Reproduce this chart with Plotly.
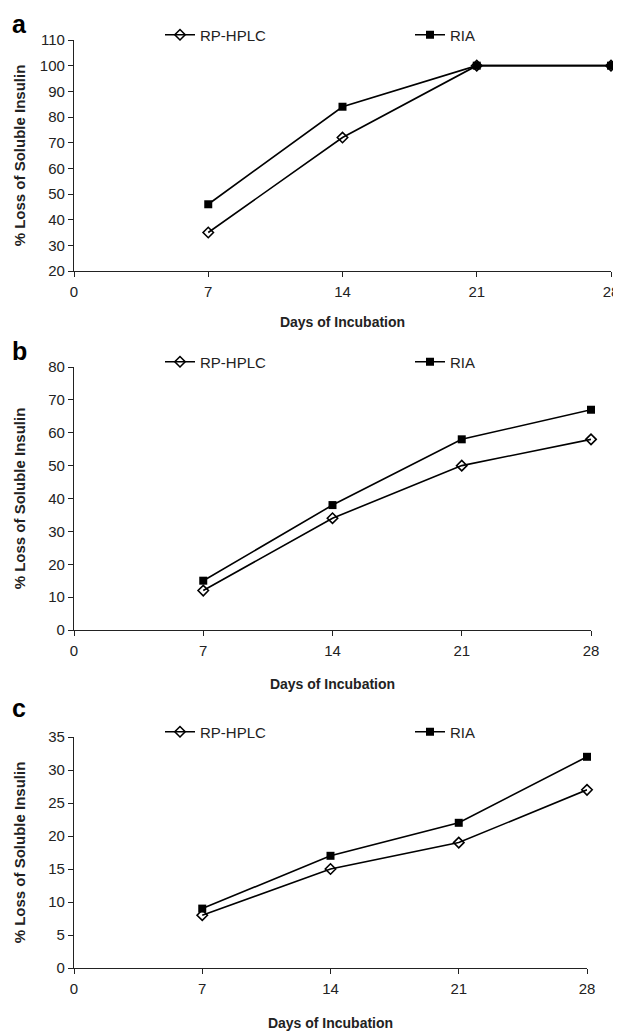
import plotly.graph_objects as go

days = [7, 14, 21, 28]
a_hplc = [35, 72, 100, 100]
a_ria = [46, 84, 100, 100]
b_hplc = [12, 34, 50, 58]
b_ria = [15, 38, 58, 67]
c_hplc = [8, 15, 19, 27]
c_ria = [9, 17, 22, 32]
x_ticks = [0, 7, 14, 21, 28]
panel_letters = ["a", "b", "c"]
y_ranges = [[20, 110], [0, 80], [0, 35]]
y_dticks = [10, 10, 5]
series_names = ["RP-HPLC", "RIA"]

OFF = 8  # page body margin
W, H = 621 - OFF, 1032 - OFF
def px(x): return (x - OFF) / W
def py(y): return 1 - (y - OFF) / H

# panel layout in screen pixels: (left, right, top, bottom)
panels = [(74, 611, 40, 271), (74, 591, 367, 630), (74, 587, 737, 968)]
legend_x = [160, 410]
ytitle_standoff = [10, 18, 18]
xtitle_standoff = [18, 21, 22]
letter_gap = [16, 16, 29]

FONT = "Liberation Sans, Arial, sans-serif"
fig = go.Figure()
data = [(a_hplc, a_ria), (b_hplc, b_ria), (c_hplc, c_ria)]
layout = dict(width=W, height=H, margin=dict(l=0, r=0, t=0, b=0, autoexpand=False),
              plot_bgcolor="white", paper_bgcolor="white", template="none",
              font=dict(family=FONT, color="#222", size=15), showlegend=True)
annotations = []
for i, (hp, ria) in enumerate(data):
    sfx = "" if i == 0 else str(i + 1)
    l, r, t, b = panels[i]
    leg1 = "legend" if i == 0 else f"legend{2*i+1}"
    leg2 = f"legend{2*i+2}"
    fig.add_trace(go.Scatter(x=days, y=hp, name=series_names[0], mode="lines+markers",
                             line=dict(color="black", width=1.6),
                             marker=dict(symbol="diamond-open", size=8, color="black", line=dict(width=1.6, color="black")),
                             xaxis="x" + sfx, yaxis="y" + sfx, legend=leg1, cliponaxis=False))
    fig.add_trace(go.Scatter(x=days, y=ria, name=series_names[1], mode="lines+markers",
                             line=dict(color="black", width=1.6),
                             marker=dict(symbol="square", size=8, color="black"),
                             xaxis="x" + sfx, yaxis="y" + sfx, legend=leg2, cliponaxis=False))
    layout["xaxis" + sfx] = dict(domain=[px(l), px(r)], anchor="y" + sfx, range=[0, 28],
                                 tickvals=x_ticks, ticks="outside", ticklen=5, tickcolor="#222",
                                 showline=True, linecolor="#222", linewidth=1.2, showgrid=False, zeroline=False,
                                 automargin=False, tickfont=dict(size=15), ticklabelstandoff=2,
                                 title=dict(text="<b>Days of Incubation</b>", font=dict(size=14),
                                            standoff=xtitle_standoff[i]))
    layout["yaxis" + sfx] = dict(domain=[py(b), py(t)], anchor="x" + sfx, range=y_ranges[i],
                                 dtick=y_dticks[i], ticks="outside", ticklen=5, tickcolor="#222",
                                 showline=True, linecolor="#222", linewidth=1.2, showgrid=False, zeroline=False,
                                 automargin=False, tickfont=dict(size=15),
                                 title=dict(text="<b>% Loss of Soluble Insulin</b>", font=dict(size=15),
                                            standoff=ytitle_standoff[i]))
    for leg, lx in zip([leg1, leg2], legend_x):
        layout[leg] = dict(orientation="h", x=px(lx), y=py(t - 5), xanchor="left", yanchor="middle",
                           font=dict(size=15), bgcolor="rgba(0,0,0,0)", borderwidth=0)
    annotations.append(dict(text="<b>%s</b>" % panel_letters[i], x=px(10), y=py(t - letter_gap[i]),
                            xref="paper", yref="paper", xanchor="left", yanchor="middle",
                            showarrow=False, font=dict(size=25, color="black")))
layout["annotations"] = annotations
fig.update_layout(**layout)
fig.write_html("out.html")
